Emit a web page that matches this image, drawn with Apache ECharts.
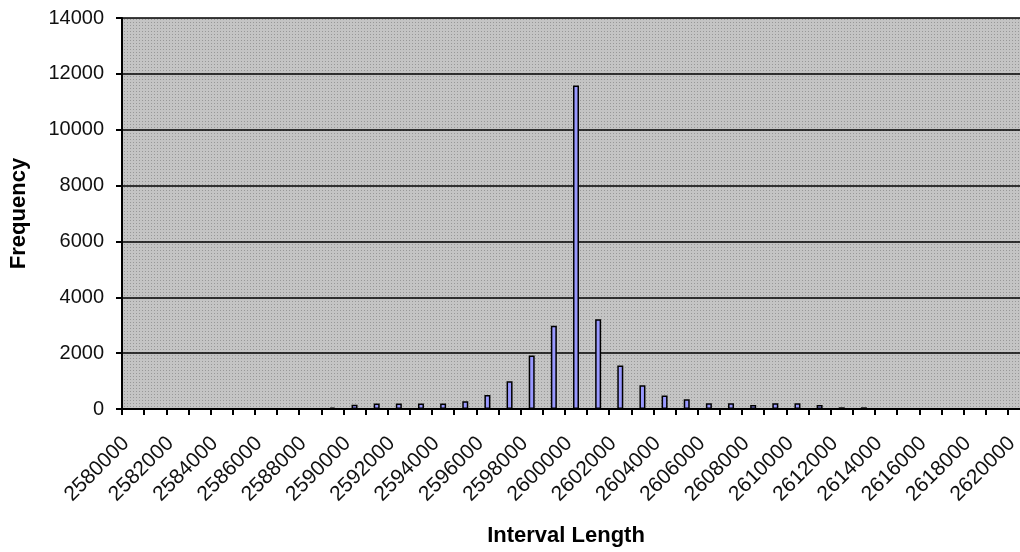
<!DOCTYPE html>
<html>
<head>
<meta charset="utf-8">
<script src="https://cdn.jsdelivr.net/npm/echarts@6/dist/echarts.min.js"></script>
<style>
html,body{margin:0;padding:0;background:#fff;overflow:hidden;width:1020px;height:552px;}
#chart{width:1040px;height:552px;}
</style>
</head>
<body>
<div id="chart"></div>
<script>
// Categories: interval lengths 2580000 .. 2620000 step 1000
const categories = [
  2580000,2581000,2582000,2583000,2584000,2585000,2586000,2587000,2588000,2589000,
  2590000,2591000,2592000,2593000,2594000,2595000,2596000,2597000,2598000,2599000,
  2600000,2601000,2602000,2603000,2604000,2605000,2606000,2607000,2608000,2609000,
  2610000,2611000,2612000,2613000,2614000,2615000,2616000,2617000,2618000,2619000,
  2620000
];
const frequency = [
  0,0,0,0,0,0,0,0,0,50,
  150,200,200,200,200,280,500,990,1920,2980,
  11580,3210,1560,850,480,350,210,210,140,210,
  210,140,60,60,0,0,0,0,0,0,
  0
];
const yTicks = [0,2000,4000,6000,8000,10000,12000,14000];

// dotted gray pattern like the original plot area
const pc = document.createElement('canvas');
pc.width = 3; pc.height = 3;
const pctx = pc.getContext('2d');
pctx.fillStyle = '#c4c4c4';
pctx.fillRect(0,0,3,3);
pctx.fillStyle = '#989898';
pctx.fillRect(1,1,1,1);

const chart = echarts.init(document.getElementById('chart'), null, {renderer:'canvas'});
const font = 'Liberation Sans, Arial, sans-serif';
chart.setOption({
  animation: false,
  backgroundColor: '#ffffff',
  grid: {
    left: 122, top: 18, width: 908, height: 395,
    show: true,
    backgroundColor: {image: pc, repeat: 'repeat'},
    borderWidth: 0
  },
  xAxis: {
    type: 'category',
    data: categories.map(String),
    boundaryGap: true,
    name: 'Interval Length',
    nameLocation: 'middle',
    nameGap: 116,
    nameTextStyle: {fontFamily: font, fontWeight: 'bold', fontSize: 22, color: '#000', padding: [0, 20, 0, 0]},
    axisLine: {lineStyle: {color: '#000', width: 2}},
    axisTick: {show: true, interval: 0, length: 6, lineStyle: {color: '#000', width: 2}},
    axisLabel: {interval: 1, rotate: 45, margin: 24, padding: [0, 10, 0, 0], fontFamily: font, fontSize: 21, color: '#111'},
    splitLine: {show: false}
  },
  yAxis: {
    type: 'value',
    min: yTicks[0], max: yTicks[yTicks.length-1], interval: 2000,
    name: 'Frequency',
    nameLocation: 'middle',
    nameGap: 92,
    nameRotate: 90,
    nameTextStyle: {fontFamily: font, fontWeight: 'bold', fontSize: 22, color: '#000'},
    axisLine: {show: true, lineStyle: {color: '#000', width: 2}},
    axisTick: {show: true, length: 6, lineStyle: {color: '#000', width: 2}},
    axisLabel: {margin: 18, fontFamily: font, fontSize: 20, color: '#111', formatter: v => String(v)},
    splitLine: {show: true, lineStyle: {color: '#000', width: 1.5}}
  },
  series: [{
    type: 'bar',
    data: frequency,
    barWidth: 6,
    itemStyle: {color: '#9999ff', borderColor: '#000', borderWidth: 1.5}
  }]
});
</script>
</body>
</html>
